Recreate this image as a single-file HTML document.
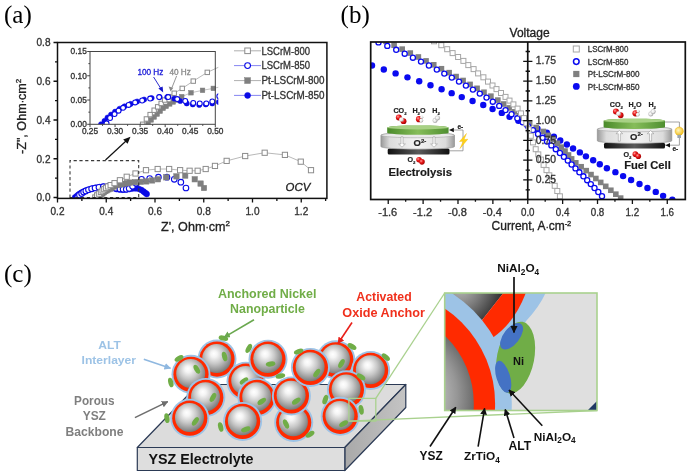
<!DOCTYPE html>
<html><head><meta charset="utf-8"><title>Figure</title>
<style>html,body{margin:0;padding:0;background:#fff;overflow:hidden}svg{display:block;will-change:transform}</style>
</head><body>
<svg width="688" height="473" viewBox="0 0 688 473">
<rect width="688" height="473" fill="#fff"/>
<text x="4" y="23.3" font-family='"Liberation Serif", "Times New Roman", serif' font-size="25">(a)</text>
<clipPath id="clipA"><rect x="57.5" y="42.5" width="269.4" height="155.9"/></clipPath>
<g clip-path="url(#clipA)">
<circle cx="75.05" cy="197.5" r="2.9" fill="#0a0ae6" stroke="#0a0ae6" stroke-width="0.5"/>
<circle cx="76.76" cy="196.14" r="2.9" fill="#0a0ae6" stroke="#0a0ae6" stroke-width="0.5"/>
<circle cx="78.22" cy="194.79" r="2.9" fill="#0a0ae6" stroke="#0a0ae6" stroke-width="0.5"/>
<circle cx="79.92" cy="193.62" r="2.9" fill="#0a0ae6" stroke="#0a0ae6" stroke-width="0.5"/>
<circle cx="81.88" cy="192.46" r="2.9" fill="#0a0ae6" stroke="#0a0ae6" stroke-width="0.5"/>
<circle cx="84.07" cy="191.3" r="2.9" fill="#0a0ae6" stroke="#0a0ae6" stroke-width="0.5"/>
<circle cx="86.51" cy="190.33" r="2.9" fill="#0a0ae6" stroke="#0a0ae6" stroke-width="0.5"/>
<circle cx="89.43" cy="189.36" r="2.9" fill="#0a0ae6" stroke="#0a0ae6" stroke-width="0.5"/>
<circle cx="92.6" cy="188.39" r="2.9" fill="#0a0ae6" stroke="#0a0ae6" stroke-width="0.5"/>
<circle cx="96.01" cy="187.62" r="2.9" fill="#0a0ae6" stroke="#0a0ae6" stroke-width="0.5"/>
<circle cx="99.67" cy="187.04" r="2.9" fill="#0a0ae6" stroke="#0a0ae6" stroke-width="0.5"/>
<circle cx="103.57" cy="186.65" r="2.9" fill="#0a0ae6" stroke="#0a0ae6" stroke-width="0.5"/>
<circle cx="107.22" cy="186.65" r="2.9" fill="#0a0ae6" stroke="#0a0ae6" stroke-width="0.5"/>
<circle cx="110.64" cy="187.23" r="2.9" fill="#0a0ae6" stroke="#0a0ae6" stroke-width="0.5"/>
<circle cx="113.56" cy="188.2" r="2.9" fill="#0a0ae6" stroke="#0a0ae6" stroke-width="0.5"/>
<circle cx="116.73" cy="189.17" r="2.9" fill="#0a0ae6" stroke="#0a0ae6" stroke-width="0.5"/>
<circle cx="119.66" cy="189.56" r="2.9" fill="#0a0ae6" stroke="#0a0ae6" stroke-width="0.5"/>
<circle cx="122.83" cy="189.75" r="2.9" fill="#0a0ae6" stroke="#0a0ae6" stroke-width="0.5"/>
<circle cx="125.99" cy="189.56" r="2.9" fill="#0a0ae6" stroke="#0a0ae6" stroke-width="0.5"/>
<circle cx="129.16" cy="189.17" r="2.9" fill="#0a0ae6" stroke="#0a0ae6" stroke-width="0.5"/>
<circle cx="132.33" cy="188.59" r="2.9" fill="#0a0ae6" stroke="#0a0ae6" stroke-width="0.5"/>
<circle cx="135.5" cy="188.39" r="2.9" fill="#0a0ae6" stroke="#0a0ae6" stroke-width="0.5"/>
<circle cx="138.67" cy="188.78" r="2.9" fill="#0a0ae6" stroke="#0a0ae6" stroke-width="0.5"/>
<circle cx="141.35" cy="189.94" r="2.9" fill="#0a0ae6" stroke="#0a0ae6" stroke-width="0.5"/>
<circle cx="143.54" cy="191.49" r="2.9" fill="#0a0ae6" stroke="#0a0ae6" stroke-width="0.5"/>
<circle cx="145.25" cy="192.85" r="2.9" fill="#0a0ae6" stroke="#0a0ae6" stroke-width="0.5"/>
<circle cx="146.71" cy="194.01" r="2.9" fill="#0a0ae6" stroke="#0a0ae6" stroke-width="0.5"/>
<circle cx="77.73" cy="197.11" r="2.8" fill="#fff" stroke="#0a0ae6" stroke-width="1.1"/>
<circle cx="79.44" cy="194.98" r="2.8" fill="#fff" stroke="#0a0ae6" stroke-width="1.1"/>
<circle cx="81.63" cy="193.43" r="2.8" fill="#fff" stroke="#0a0ae6" stroke-width="1.1"/>
<circle cx="83.58" cy="192.07" r="2.8" fill="#fff" stroke="#0a0ae6" stroke-width="1.1"/>
<circle cx="85.78" cy="190.91" r="2.8" fill="#fff" stroke="#0a0ae6" stroke-width="1.1"/>
<circle cx="88.46" cy="189.75" r="2.8" fill="#fff" stroke="#0a0ae6" stroke-width="1.1"/>
<circle cx="91.62" cy="188.78" r="2.8" fill="#fff" stroke="#0a0ae6" stroke-width="1.1"/>
<circle cx="95.04" cy="188.01" r="2.8" fill="#fff" stroke="#0a0ae6" stroke-width="1.1"/>
<circle cx="98.94" cy="187.23" r="2.8" fill="#fff" stroke="#0a0ae6" stroke-width="1.1"/>
<circle cx="103.33" cy="186.65" r="2.8" fill="#fff" stroke="#0a0ae6" stroke-width="1.1"/>
<circle cx="107.71" cy="186.65" r="2.8" fill="#fff" stroke="#0a0ae6" stroke-width="1.1"/>
<circle cx="112.1" cy="187.43" r="2.8" fill="#fff" stroke="#0a0ae6" stroke-width="1.1"/>
<circle cx="116" cy="188.2" r="2.8" fill="#fff" stroke="#0a0ae6" stroke-width="1.1"/>
<circle cx="119.9" cy="188.97" r="2.8" fill="#fff" stroke="#0a0ae6" stroke-width="1.1"/>
<circle cx="123.07" cy="189.17" r="2.8" fill="#fff" stroke="#0a0ae6" stroke-width="1.1"/>
<circle cx="126.24" cy="189.17" r="2.8" fill="#fff" stroke="#0a0ae6" stroke-width="1.1"/>
<circle cx="129.16" cy="188.39" r="2.8" fill="#fff" stroke="#0a0ae6" stroke-width="1.1"/>
<circle cx="132.57" cy="186.26" r="2.8" fill="#fff" stroke="#0a0ae6" stroke-width="1.1"/>
<circle cx="135.99" cy="183.16" r="2.8" fill="#fff" stroke="#0a0ae6" stroke-width="1.1"/>
<circle cx="141.59" cy="179.29" r="2.8" fill="#fff" stroke="#0a0ae6" stroke-width="1.1"/>
<circle cx="149.64" cy="178.51" r="2.8" fill="#fff" stroke="#0a0ae6" stroke-width="1.1"/>
<circle cx="158.41" cy="177.16" r="2.8" fill="#fff" stroke="#0a0ae6" stroke-width="1.1"/>
<circle cx="166.94" cy="177.16" r="2.8" fill="#fff" stroke="#0a0ae6" stroke-width="1.1"/>
<circle cx="174.26" cy="179.29" r="2.8" fill="#fff" stroke="#0a0ae6" stroke-width="1.1"/>
<circle cx="180.84" cy="182.19" r="2.8" fill="#fff" stroke="#0a0ae6" stroke-width="1.1"/>
<circle cx="185.96" cy="188.01" r="2.8" fill="#fff" stroke="#0a0ae6" stroke-width="1.1"/>
<rect x="95.26" y="194.41" width="5.4" height="5.4" fill="#7f7f7f" stroke="#7f7f7f" stroke-width="0.5"/>
<rect x="96.72" y="193.06" width="5.4" height="5.4" fill="#7f7f7f" stroke="#7f7f7f" stroke-width="0.5"/>
<rect x="98.19" y="191.89" width="5.4" height="5.4" fill="#7f7f7f" stroke="#7f7f7f" stroke-width="0.5"/>
<rect x="99.65" y="190.73" width="5.4" height="5.4" fill="#7f7f7f" stroke="#7f7f7f" stroke-width="0.5"/>
<rect x="101.11" y="189.57" width="5.4" height="5.4" fill="#7f7f7f" stroke="#7f7f7f" stroke-width="0.5"/>
<rect x="102.58" y="188.41" width="5.4" height="5.4" fill="#7f7f7f" stroke="#7f7f7f" stroke-width="0.5"/>
<rect x="104.04" y="187.63" width="5.4" height="5.4" fill="#7f7f7f" stroke="#7f7f7f" stroke-width="0.5"/>
<rect x="105.74" y="186.66" width="5.4" height="5.4" fill="#7f7f7f" stroke="#7f7f7f" stroke-width="0.5"/>
<rect x="107.45" y="185.89" width="5.4" height="5.4" fill="#7f7f7f" stroke="#7f7f7f" stroke-width="0.5"/>
<rect x="108.91" y="185.11" width="5.4" height="5.4" fill="#7f7f7f" stroke="#7f7f7f" stroke-width="0.5"/>
<rect x="111.59" y="183.76" width="5.4" height="5.4" fill="#7f7f7f" stroke="#7f7f7f" stroke-width="0.5"/>
<rect x="115.01" y="182.4" width="5.4" height="5.4" fill="#7f7f7f" stroke="#7f7f7f" stroke-width="0.5"/>
<rect x="118.42" y="181.62" width="5.4" height="5.4" fill="#7f7f7f" stroke="#7f7f7f" stroke-width="0.5"/>
<rect x="121.59" y="181.04" width="5.4" height="5.4" fill="#7f7f7f" stroke="#7f7f7f" stroke-width="0.5"/>
<rect x="124.51" y="180.46" width="5.4" height="5.4" fill="#7f7f7f" stroke="#7f7f7f" stroke-width="0.5"/>
<rect x="127.19" y="179.88" width="5.4" height="5.4" fill="#7f7f7f" stroke="#7f7f7f" stroke-width="0.5"/>
<rect x="132.31" y="179.49" width="5.4" height="5.4" fill="#7f7f7f" stroke="#7f7f7f" stroke-width="0.5"/>
<rect x="137.92" y="179.11" width="5.4" height="5.4" fill="#7f7f7f" stroke="#7f7f7f" stroke-width="0.5"/>
<rect x="143.52" y="178.72" width="5.4" height="5.4" fill="#7f7f7f" stroke="#7f7f7f" stroke-width="0.5"/>
<rect x="149.38" y="177.75" width="5.4" height="5.4" fill="#7f7f7f" stroke="#7f7f7f" stroke-width="0.5"/>
<rect x="155.23" y="176.59" width="5.4" height="5.4" fill="#7f7f7f" stroke="#7f7f7f" stroke-width="0.5"/>
<rect x="163.51" y="174.65" width="5.4" height="5.4" fill="#7f7f7f" stroke="#7f7f7f" stroke-width="0.5"/>
<rect x="173.75" y="173.68" width="5.4" height="5.4" fill="#7f7f7f" stroke="#7f7f7f" stroke-width="0.5"/>
<rect x="182.53" y="172.91" width="5.4" height="5.4" fill="#7f7f7f" stroke="#7f7f7f" stroke-width="0.5"/>
<rect x="192.03" y="176.59" width="5.4" height="5.4" fill="#7f7f7f" stroke="#7f7f7f" stroke-width="0.5"/>
<rect x="197.88" y="180.85" width="5.4" height="5.4" fill="#7f7f7f" stroke="#7f7f7f" stroke-width="0.5"/>
<rect x="201.29" y="185.31" width="5.4" height="5.4" fill="#7f7f7f" stroke="#7f7f7f" stroke-width="0.5"/>
<path d="M95.28,197.5 L97.11,195.37 L98.94,193.62 L100.89,191.88 L102.59,190.53 L104.3,189.17 L106.01,187.81 L107.96,186.46 L110.64,185.1 L114.54,183.16 L119.9,180.26 L126.72,176.77 L135.5,173.47 L145.98,170.18 L157.68,169.02 L169.14,169.02 L180.11,170.18 L189.61,170.76 L197.66,170.76 L205.7,169.02 L214.96,165.92 L226.66,160.88 L245.19,156.04 L264.69,152.74 L284.92,154.88 L300.76,161.66 L311,170.18" fill="none" stroke="#9a9a9a" stroke-width="0.7"/>
<rect x="92.68" y="194.9" width="5.2" height="5.2" fill="#fff" stroke="#8c8c8c" stroke-width="1"/>
<rect x="94.51" y="192.77" width="5.2" height="5.2" fill="#fff" stroke="#8c8c8c" stroke-width="1"/>
<rect x="96.34" y="191.03" width="5.2" height="5.2" fill="#fff" stroke="#8c8c8c" stroke-width="1"/>
<rect x="98.29" y="189.28" width="5.2" height="5.2" fill="#fff" stroke="#8c8c8c" stroke-width="1"/>
<rect x="99.99" y="187.93" width="5.2" height="5.2" fill="#fff" stroke="#8c8c8c" stroke-width="1"/>
<rect x="101.7" y="186.57" width="5.2" height="5.2" fill="#fff" stroke="#8c8c8c" stroke-width="1"/>
<rect x="103.41" y="185.21" width="5.2" height="5.2" fill="#fff" stroke="#8c8c8c" stroke-width="1"/>
<rect x="105.36" y="183.86" width="5.2" height="5.2" fill="#fff" stroke="#8c8c8c" stroke-width="1"/>
<rect x="108.04" y="182.5" width="5.2" height="5.2" fill="#fff" stroke="#8c8c8c" stroke-width="1"/>
<rect x="111.94" y="180.56" width="5.2" height="5.2" fill="#fff" stroke="#8c8c8c" stroke-width="1"/>
<rect x="117.3" y="177.66" width="5.2" height="5.2" fill="#fff" stroke="#8c8c8c" stroke-width="1"/>
<rect x="124.12" y="174.17" width="5.2" height="5.2" fill="#fff" stroke="#8c8c8c" stroke-width="1"/>
<rect x="132.9" y="170.88" width="5.2" height="5.2" fill="#fff" stroke="#8c8c8c" stroke-width="1"/>
<rect x="143.38" y="167.58" width="5.2" height="5.2" fill="#fff" stroke="#8c8c8c" stroke-width="1"/>
<rect x="155.08" y="166.42" width="5.2" height="5.2" fill="#fff" stroke="#8c8c8c" stroke-width="1"/>
<rect x="166.54" y="166.42" width="5.2" height="5.2" fill="#fff" stroke="#8c8c8c" stroke-width="1"/>
<rect x="177.51" y="167.58" width="5.2" height="5.2" fill="#fff" stroke="#8c8c8c" stroke-width="1"/>
<rect x="187.01" y="168.16" width="5.2" height="5.2" fill="#fff" stroke="#8c8c8c" stroke-width="1"/>
<rect x="195.06" y="168.16" width="5.2" height="5.2" fill="#fff" stroke="#8c8c8c" stroke-width="1"/>
<rect x="203.1" y="166.42" width="5.2" height="5.2" fill="#fff" stroke="#8c8c8c" stroke-width="1"/>
<rect x="212.36" y="163.32" width="5.2" height="5.2" fill="#fff" stroke="#8c8c8c" stroke-width="1"/>
<rect x="224.06" y="158.28" width="5.2" height="5.2" fill="#fff" stroke="#8c8c8c" stroke-width="1"/>
<rect x="242.59" y="153.44" width="5.2" height="5.2" fill="#fff" stroke="#8c8c8c" stroke-width="1"/>
<rect x="262.09" y="150.14" width="5.2" height="5.2" fill="#fff" stroke="#8c8c8c" stroke-width="1"/>
<rect x="282.32" y="152.28" width="5.2" height="5.2" fill="#fff" stroke="#8c8c8c" stroke-width="1"/>
<rect x="298.16" y="159.06" width="5.2" height="5.2" fill="#fff" stroke="#8c8c8c" stroke-width="1"/>
<rect x="308.4" y="167.58" width="5.2" height="5.2" fill="#fff" stroke="#8c8c8c" stroke-width="1"/>
</g>
<path d="M70,197.6 V160.6 H138.7 V197.6 Z" fill="none" stroke="#3a3a3a" stroke-width="1.1" stroke-dasharray="3.2,2.6"/>
<line x1="105.5" y1="160" x2="126" y2="141" stroke="#111" stroke-width="1.2"/>
<path d="M130.5,136.8 L123.2,139.6 L127.6,143.8 Z" fill="#111"/>
<rect x="57.5" y="42.5" width="269.4" height="155.9" fill="none" stroke="#111" stroke-width="1.5"/>
<path d="M53.5,197.5 H57.5 M55,178.12 H57.5 M53.5,158.75 H57.5 M55,139.38 H57.5 M53.5,120 H57.5 M55,100.62 H57.5 M53.5,81.25 H57.5 M55,61.88 H57.5 M53.5,42.5 H57.5 M57.5,198.4 V202.4 M81.88,198.4 V200.9 M106.25,198.4 V202.4 M130.62,198.4 V200.9 M155,198.4 V202.4 M179.38,198.4 V200.9 M203.75,198.4 V202.4 M228.13,198.4 V200.9 M252.5,198.4 V202.4 M276.88,198.4 V200.9 M301.25,198.4 V202.4 M325.62,198.4 V200.9" stroke="#111" stroke-width="1.3" fill="none"/>
<text x="50.5" y="201.3" font-family='"Liberation Sans", Arial, sans-serif' font-size="10.5" fill="#333" text-anchor="end" textLength="14" lengthAdjust="spacingAndGlyphs" stroke="#333" stroke-width="0.32">0.0</text>
<text x="50.5" y="162.55" font-family='"Liberation Sans", Arial, sans-serif' font-size="10.5" fill="#333" text-anchor="end" textLength="14" lengthAdjust="spacingAndGlyphs" stroke="#333" stroke-width="0.32">0.2</text>
<text x="50.5" y="123.8" font-family='"Liberation Sans", Arial, sans-serif' font-size="10.5" fill="#333" text-anchor="end" textLength="14" lengthAdjust="spacingAndGlyphs" stroke="#333" stroke-width="0.32">0.4</text>
<text x="50.5" y="85.05" font-family='"Liberation Sans", Arial, sans-serif' font-size="10.5" fill="#333" text-anchor="end" textLength="14" lengthAdjust="spacingAndGlyphs" stroke="#333" stroke-width="0.32">0.6</text>
<text x="50.5" y="46.3" font-family='"Liberation Sans", Arial, sans-serif' font-size="10.5" fill="#333" text-anchor="end" textLength="14" lengthAdjust="spacingAndGlyphs" stroke="#333" stroke-width="0.32">0.8</text>
<text x="57.5" y="215" font-family='"Liberation Sans", Arial, sans-serif' font-size="10.5" fill="#333" text-anchor="middle" textLength="14" lengthAdjust="spacingAndGlyphs" stroke="#333" stroke-width="0.32">0.2</text>
<text x="106.25" y="215" font-family='"Liberation Sans", Arial, sans-serif' font-size="10.5" fill="#333" text-anchor="middle" textLength="14" lengthAdjust="spacingAndGlyphs" stroke="#333" stroke-width="0.32">0.4</text>
<text x="155" y="215" font-family='"Liberation Sans", Arial, sans-serif' font-size="10.5" fill="#333" text-anchor="middle" textLength="14" lengthAdjust="spacingAndGlyphs" stroke="#333" stroke-width="0.32">0.6</text>
<text x="203.75" y="215" font-family='"Liberation Sans", Arial, sans-serif' font-size="10.5" fill="#333" text-anchor="middle" textLength="14" lengthAdjust="spacingAndGlyphs" stroke="#333" stroke-width="0.32">0.8</text>
<text x="252.5" y="215" font-family='"Liberation Sans", Arial, sans-serif' font-size="10.5" fill="#333" text-anchor="middle" textLength="14" lengthAdjust="spacingAndGlyphs" stroke="#333" stroke-width="0.32">1.0</text>
<text x="301.25" y="215" font-family='"Liberation Sans", Arial, sans-serif' font-size="10.5" fill="#333" text-anchor="middle" textLength="14" lengthAdjust="spacingAndGlyphs" stroke="#333" stroke-width="0.32">1.2</text>
<text x="161" y="231.2" font-family='"Liberation Sans", Arial, sans-serif' font-size="12.6" fill="#222" stroke="#222" stroke-width="0.32">Z', Ohm<tspan font-size="10">&#183;</tspan>cm<tspan font-size="8" dy="-5">2</tspan></text>
<text transform="translate(26,154) rotate(-90)" x="0" y="0" font-family='"Liberation Sans", Arial, sans-serif' font-size="12.6" fill="#222" stroke="#222" stroke-width="0.32">-Z", Ohm<tspan font-size="10">&#183;</tspan>cm<tspan font-size="8" dy="-5">2</tspan></text>
<text x="285.6" y="191.3" font-family='"Liberation Sans", Arial, sans-serif' font-size="11.4" font-style="italic" fill="#222" stroke="#222" stroke-width="0.32">OCV</text>
<rect x="90.0" y="51.5" width="125.30000000000001" height="72.8" fill="#fff"/>
<clipPath id="clipI"><rect x="90.0" y="48.5" width="128.3" height="75.8"/></clipPath>
<g clip-path="url(#clipI)">
<path d="M148.14,123.33 L151.15,119.93 L154.15,117.02 L157.16,114.11 L160.17,111.2 L163.18,108.29 L166.18,106.34 L169.69,103.92 L173.2,101.98 L176.21,100.03 L181.72,96.64 L190.99,92.76 L202.52,90.33 L213.3,88.39 L224.32,85.96" fill="none" stroke="#aaaaaa" stroke-width="0.7"/>
<rect x="145.84" y="121.03" width="4.6" height="4.6" fill="#7f7f7f" stroke="#7f7f7f" stroke-width="0.5"/>
<rect x="148.85" y="117.63" width="4.6" height="4.6" fill="#7f7f7f" stroke="#7f7f7f" stroke-width="0.5"/>
<rect x="151.85" y="114.72" width="4.6" height="4.6" fill="#7f7f7f" stroke="#7f7f7f" stroke-width="0.5"/>
<rect x="154.86" y="111.81" width="4.6" height="4.6" fill="#7f7f7f" stroke="#7f7f7f" stroke-width="0.5"/>
<rect x="157.87" y="108.9" width="4.6" height="4.6" fill="#7f7f7f" stroke="#7f7f7f" stroke-width="0.5"/>
<rect x="160.88" y="105.99" width="4.6" height="4.6" fill="#7f7f7f" stroke="#7f7f7f" stroke-width="0.5"/>
<rect x="163.88" y="104.04" width="4.6" height="4.6" fill="#7f7f7f" stroke="#7f7f7f" stroke-width="0.5"/>
<rect x="167.39" y="101.62" width="4.6" height="4.6" fill="#7f7f7f" stroke="#7f7f7f" stroke-width="0.5"/>
<rect x="170.9" y="99.68" width="4.6" height="4.6" fill="#7f7f7f" stroke="#7f7f7f" stroke-width="0.5"/>
<rect x="173.91" y="97.73" width="4.6" height="4.6" fill="#7f7f7f" stroke="#7f7f7f" stroke-width="0.5"/>
<rect x="179.42" y="94.34" width="4.6" height="4.6" fill="#7f7f7f" stroke="#7f7f7f" stroke-width="0.5"/>
<rect x="188.69" y="90.46" width="4.6" height="4.6" fill="#7f7f7f" stroke="#7f7f7f" stroke-width="0.5"/>
<rect x="200.22" y="88.03" width="4.6" height="4.6" fill="#7f7f7f" stroke="#7f7f7f" stroke-width="0.5"/>
<rect x="211" y="86.09" width="4.6" height="4.6" fill="#7f7f7f" stroke="#7f7f7f" stroke-width="0.5"/>
<rect x="222.02" y="83.66" width="4.6" height="4.6" fill="#7f7f7f" stroke="#7f7f7f" stroke-width="0.5"/>
<path d="M142.63,124.3 L146.38,118.96 L150.14,114.59 L154.15,110.23 L157.66,106.83 L161.17,103.43 L164.68,100.03 L168.69,96.64 L174.2,93.24 L182.22,88.39 L193.25,81.11 L207.28,72.37 L225.32,64.12" fill="none" stroke="#9a9a9a" stroke-width="0.7"/>
<rect x="140.43" y="122.1" width="4.4" height="4.4" fill="#fff" stroke="#8c8c8c" stroke-width="1"/>
<rect x="144.19" y="116.76" width="4.4" height="4.4" fill="#fff" stroke="#8c8c8c" stroke-width="1"/>
<rect x="147.94" y="112.39" width="4.4" height="4.4" fill="#fff" stroke="#8c8c8c" stroke-width="1"/>
<rect x="151.95" y="108.03" width="4.4" height="4.4" fill="#fff" stroke="#8c8c8c" stroke-width="1"/>
<rect x="155.46" y="104.63" width="4.4" height="4.4" fill="#fff" stroke="#8c8c8c" stroke-width="1"/>
<rect x="158.97" y="101.23" width="4.4" height="4.4" fill="#fff" stroke="#8c8c8c" stroke-width="1"/>
<rect x="162.48" y="97.83" width="4.4" height="4.4" fill="#fff" stroke="#8c8c8c" stroke-width="1"/>
<rect x="166.49" y="94.44" width="4.4" height="4.4" fill="#fff" stroke="#8c8c8c" stroke-width="1"/>
<rect x="172" y="91.04" width="4.4" height="4.4" fill="#fff" stroke="#8c8c8c" stroke-width="1"/>
<rect x="180.02" y="86.19" width="4.4" height="4.4" fill="#fff" stroke="#8c8c8c" stroke-width="1"/>
<rect x="191.05" y="78.91" width="4.4" height="4.4" fill="#fff" stroke="#8c8c8c" stroke-width="1"/>
<rect x="205.08" y="70.17" width="4.4" height="4.4" fill="#fff" stroke="#8c8c8c" stroke-width="1"/>
<rect x="223.12" y="61.92" width="4.4" height="4.4" fill="#fff" stroke="#8c8c8c" stroke-width="1"/>
<circle cx="101.03" cy="124.3" r="2.6" fill="#0a0ae6" stroke="#0a0ae6" stroke-width="0.5"/>
<circle cx="104.53" cy="120.9" r="2.6" fill="#0a0ae6" stroke="#0a0ae6" stroke-width="0.5"/>
<circle cx="107.54" cy="117.51" r="2.6" fill="#0a0ae6" stroke="#0a0ae6" stroke-width="0.5"/>
<circle cx="111.05" cy="114.59" r="2.6" fill="#0a0ae6" stroke="#0a0ae6" stroke-width="0.5"/>
<circle cx="115.06" cy="111.68" r="2.6" fill="#0a0ae6" stroke="#0a0ae6" stroke-width="0.5"/>
<circle cx="119.57" cy="108.77" r="2.6" fill="#0a0ae6" stroke="#0a0ae6" stroke-width="0.5"/>
<circle cx="124.58" cy="106.34" r="2.6" fill="#0a0ae6" stroke="#0a0ae6" stroke-width="0.5"/>
<circle cx="130.6" cy="103.92" r="2.6" fill="#0a0ae6" stroke="#0a0ae6" stroke-width="0.5"/>
<circle cx="137.11" cy="101.49" r="2.6" fill="#0a0ae6" stroke="#0a0ae6" stroke-width="0.5"/>
<circle cx="144.13" cy="99.55" r="2.6" fill="#0a0ae6" stroke="#0a0ae6" stroke-width="0.5"/>
<circle cx="151.65" cy="98.09" r="2.6" fill="#0a0ae6" stroke="#0a0ae6" stroke-width="0.5"/>
<circle cx="159.67" cy="97.12" r="2.6" fill="#0a0ae6" stroke="#0a0ae6" stroke-width="0.5"/>
<circle cx="167.18" cy="97.12" r="2.6" fill="#0a0ae6" stroke="#0a0ae6" stroke-width="0.5"/>
<circle cx="174.2" cy="98.58" r="2.6" fill="#0a0ae6" stroke="#0a0ae6" stroke-width="0.5"/>
<circle cx="180.22" cy="101.01" r="2.6" fill="#0a0ae6" stroke="#0a0ae6" stroke-width="0.5"/>
<circle cx="186.73" cy="103.43" r="2.6" fill="#0a0ae6" stroke="#0a0ae6" stroke-width="0.5"/>
<circle cx="192.75" cy="104.4" r="2.6" fill="#0a0ae6" stroke="#0a0ae6" stroke-width="0.5"/>
<circle cx="199.26" cy="104.89" r="2.6" fill="#0a0ae6" stroke="#0a0ae6" stroke-width="0.5"/>
<circle cx="205.78" cy="104.4" r="2.6" fill="#0a0ae6" stroke="#0a0ae6" stroke-width="0.5"/>
<circle cx="212.29" cy="103.43" r="2.6" fill="#0a0ae6" stroke="#0a0ae6" stroke-width="0.5"/>
<circle cx="218.81" cy="101.98" r="2.6" fill="#0a0ae6" stroke="#0a0ae6" stroke-width="0.5"/>
<circle cx="106.54" cy="123.33" r="2.45" fill="#fff" stroke="#0a0ae6" stroke-width="1.1"/>
<circle cx="110.05" cy="117.99" r="2.45" fill="#fff" stroke="#0a0ae6" stroke-width="1.1"/>
<circle cx="114.56" cy="114.11" r="2.45" fill="#fff" stroke="#0a0ae6" stroke-width="1.1"/>
<circle cx="118.57" cy="110.71" r="2.45" fill="#fff" stroke="#0a0ae6" stroke-width="1.1"/>
<circle cx="123.08" cy="107.8" r="2.45" fill="#fff" stroke="#0a0ae6" stroke-width="1.1"/>
<circle cx="128.59" cy="104.89" r="2.45" fill="#fff" stroke="#0a0ae6" stroke-width="1.1"/>
<circle cx="135.11" cy="102.46" r="2.45" fill="#fff" stroke="#0a0ae6" stroke-width="1.1"/>
<circle cx="142.12" cy="100.52" r="2.45" fill="#fff" stroke="#0a0ae6" stroke-width="1.1"/>
<circle cx="150.14" cy="98.58" r="2.45" fill="#fff" stroke="#0a0ae6" stroke-width="1.1"/>
<circle cx="159.17" cy="97.12" r="2.45" fill="#fff" stroke="#0a0ae6" stroke-width="1.1"/>
<circle cx="168.19" cy="97.12" r="2.45" fill="#fff" stroke="#0a0ae6" stroke-width="1.1"/>
<circle cx="177.21" cy="99.06" r="2.45" fill="#fff" stroke="#0a0ae6" stroke-width="1.1"/>
<circle cx="185.23" cy="101.01" r="2.45" fill="#fff" stroke="#0a0ae6" stroke-width="1.1"/>
<circle cx="193.25" cy="102.95" r="2.45" fill="#fff" stroke="#0a0ae6" stroke-width="1.1"/>
<circle cx="199.76" cy="103.43" r="2.45" fill="#fff" stroke="#0a0ae6" stroke-width="1.1"/>
<circle cx="206.28" cy="103.43" r="2.45" fill="#fff" stroke="#0a0ae6" stroke-width="1.1"/>
<circle cx="212.29" cy="101.49" r="2.45" fill="#fff" stroke="#0a0ae6" stroke-width="1.1"/>
<circle cx="219.31" cy="96.15" r="2.45" fill="#fff" stroke="#0a0ae6" stroke-width="1.1"/>
</g>
<rect x="90.0" y="51.5" width="125.30000000000001" height="72.8" fill="none" stroke="#444" stroke-width="1"/>
<path d="M87.2,124.3 H90 M88.4,112.17 H90 M87.2,100.03 H90 M88.4,87.9 H90 M87.2,75.77 H90 M88.4,63.64 H90 M87.2,51.5 H90 M90,124.3 V127.1 M102.53,124.3 V125.9 M115.06,124.3 V127.1 M127.59,124.3 V125.9 M140.12,124.3 V127.1 M152.65,124.3 V125.9 M165.18,124.3 V127.1 M177.71,124.3 V125.9 M190.24,124.3 V127.1 M202.77,124.3 V125.9 M215.3,124.3 V127.1" stroke="#444" stroke-width="1" fill="none"/>
<text x="86.8" y="127.2" font-family='"Liberation Sans", Arial, sans-serif' font-size="8.3" fill="#333" text-anchor="end" textLength="16.2" lengthAdjust="spacingAndGlyphs" stroke="#333" stroke-width="0.32">0.00</text>
<text x="86.8" y="102.94" font-family='"Liberation Sans", Arial, sans-serif' font-size="8.3" fill="#333" text-anchor="end" textLength="16.2" lengthAdjust="spacingAndGlyphs" stroke="#333" stroke-width="0.32">0.05</text>
<text x="86.8" y="78.67" font-family='"Liberation Sans", Arial, sans-serif' font-size="8.3" fill="#333" text-anchor="end" textLength="16.2" lengthAdjust="spacingAndGlyphs" stroke="#333" stroke-width="0.32">0.10</text>
<text x="86.8" y="54.4" font-family='"Liberation Sans", Arial, sans-serif' font-size="8.3" fill="#333" text-anchor="end" textLength="16.2" lengthAdjust="spacingAndGlyphs" stroke="#333" stroke-width="0.32">0.15</text>
<text x="90" y="133.9" font-family='"Liberation Sans", Arial, sans-serif' font-size="8.3" fill="#333" text-anchor="middle" textLength="16.2" lengthAdjust="spacingAndGlyphs" stroke="#333" stroke-width="0.32">0.25</text>
<text x="115.06" y="133.9" font-family='"Liberation Sans", Arial, sans-serif' font-size="8.3" fill="#333" text-anchor="middle" textLength="16.2" lengthAdjust="spacingAndGlyphs" stroke="#333" stroke-width="0.32">0.30</text>
<text x="140.12" y="133.9" font-family='"Liberation Sans", Arial, sans-serif' font-size="8.3" fill="#333" text-anchor="middle" textLength="16.2" lengthAdjust="spacingAndGlyphs" stroke="#333" stroke-width="0.32">0.35</text>
<text x="165.18" y="133.9" font-family='"Liberation Sans", Arial, sans-serif' font-size="8.3" fill="#333" text-anchor="middle" textLength="16.2" lengthAdjust="spacingAndGlyphs" stroke="#333" stroke-width="0.32">0.40</text>
<text x="190.24" y="133.9" font-family='"Liberation Sans", Arial, sans-serif' font-size="8.3" fill="#333" text-anchor="middle" textLength="16.2" lengthAdjust="spacingAndGlyphs" stroke="#333" stroke-width="0.32">0.45</text>
<text x="215.3" y="133.9" font-family='"Liberation Sans", Arial, sans-serif' font-size="8.3" fill="#333" text-anchor="middle" textLength="16.2" lengthAdjust="spacingAndGlyphs" stroke="#333" stroke-width="0.32">0.50</text>
<text x="137.4" y="74.8" font-family='"Liberation Sans", Arial, sans-serif' font-size="8.8" fill="#1a1ad8" textLength="26" lengthAdjust="spacingAndGlyphs" stroke="#1a1ad8" stroke-width="0.32">100 Hz</text>
<text x="169.4" y="74.8" font-family='"Liberation Sans", Arial, sans-serif' font-size="8.8" fill="#8a8a8a" textLength="21.4" lengthAdjust="spacingAndGlyphs" stroke="#8a8a8a" stroke-width="0.32">40 Hz</text>
<line x1="153.6" y1="77" x2="160.5" y2="88" stroke="#1414c8" stroke-width="0.9"/>
<path d="M163.2,92.6 L158.4,88.6 L162.6,86.4 Z" fill="#1414c8"/>
<line x1="176.6" y1="76" x2="172" y2="87.5" stroke="#8a8a8a" stroke-width="0.9"/>
<path d="M170.6,91.6 L168.6,86.6 L173.4,87.8 Z" fill="#8a8a8a"/>
<line x1="234" y1="50.8" x2="261" y2="50.8" stroke="#9a9a9a" stroke-width="0.8"/>
<rect x="244.8" y="48" width="5.6" height="5.6" fill="#fff" stroke="#8c8c8c" stroke-width="1"/>
<text x="261.5" y="54.5" font-family='"Liberation Sans", Arial, sans-serif' font-size="10.4" fill="#333" textLength="48.5" lengthAdjust="spacingAndGlyphs" stroke="#333" stroke-width="0.32">LSCrM-800</text>
<line x1="234" y1="65.6" x2="261" y2="65.6" stroke="#6666ee" stroke-width="0.8"/>
<circle cx="247.6" cy="65.6" r="2.9" fill="#fff" stroke="#0a0ae6" stroke-width="1.1"/>
<text x="261.5" y="69.3" font-family='"Liberation Sans", Arial, sans-serif' font-size="10.4" fill="#333" textLength="48.5" lengthAdjust="spacingAndGlyphs" stroke="#333" stroke-width="0.32">LSCrM-850</text>
<line x1="234" y1="80.6" x2="261" y2="80.6" stroke="#9a9a9a" stroke-width="0.8"/>
<rect x="244.7" y="77.7" width="5.8" height="5.8" fill="#7f7f7f" stroke="#7f7f7f" stroke-width="0.5"/>
<text x="261.5" y="84.3" font-family='"Liberation Sans", Arial, sans-serif' font-size="10.4" fill="#333" textLength="63" lengthAdjust="spacingAndGlyphs" stroke="#333" stroke-width="0.32">Pt-LSCrM-800</text>
<line x1="234" y1="95.4" x2="261" y2="95.4" stroke="#6666ee" stroke-width="0.8"/>
<circle cx="247.6" cy="95.4" r="3" fill="#0a0ae6" stroke="#0a0ae6" stroke-width="0.5"/>
<text x="261.5" y="99.1" font-family='"Liberation Sans", Arial, sans-serif' font-size="10.4" fill="#333" textLength="63" lengthAdjust="spacingAndGlyphs" stroke="#333" stroke-width="0.32">Pt-LSCrM-850</text>
<defs>
<radialGradient id="mRed" cx="0.35" cy="0.35" r="0.7"><stop offset="0" stop-color="#ff9a9a"/><stop offset="0.45" stop-color="#e81818"/><stop offset="1" stop-color="#a00000"/></radialGradient>
<radialGradient id="mWht" cx="0.35" cy="0.35" r="0.7"><stop offset="0" stop-color="#ffffff"/><stop offset="0.6" stop-color="#e6e6e6"/><stop offset="1" stop-color="#9a9a9a"/></radialGradient>
<linearGradient id="gGreen" x1="0" y1="0" x2="1" y2="0"><stop offset="0" stop-color="#4a8a2a"/><stop offset="0.5" stop-color="#86bd5a"/><stop offset="1" stop-color="#4f8f30"/></linearGradient>
<linearGradient id="gGray" x1="0" y1="0" x2="1" y2="0"><stop offset="0" stop-color="#9a9a9a"/><stop offset="0.12" stop-color="#dcdcdc"/><stop offset="0.5" stop-color="#f4f4f4"/><stop offset="0.88" stop-color="#dcdcdc"/><stop offset="1" stop-color="#9a9a9a"/></linearGradient>
<linearGradient id="gDark" x1="0" y1="0" x2="1" y2="0"><stop offset="0" stop-color="#111"/><stop offset="0.5" stop-color="#5a5a5a"/><stop offset="1" stop-color="#111"/></linearGradient>
<radialGradient id="gBulb" cx="0.4" cy="0.4" r="0.6"><stop offset="0" stop-color="#fff6c0"/><stop offset="1" stop-color="#f3c020"/></radialGradient>
</defs>
<text x="340.6" y="23.3" font-family='"Liberation Serif", "Times New Roman", serif' font-size="25">(b)</text>
<clipPath id="clipB"><rect x="370.7" y="42.0" width="314.59999999999997" height="157.5"/></clipPath>
<g clip-path="url(#clipB)">
<circle cx="372" cy="65.5" r="3.2" fill="#0a0af0"/>
<circle cx="383.8" cy="69.45" r="3.2" fill="#0a0af0"/>
<circle cx="395.6" cy="73.4" r="3.2" fill="#0a0af0"/>
<circle cx="407.45" cy="77.35" r="3.2" fill="#0a0af0"/>
<circle cx="419.2" cy="81.3" r="3.2" fill="#0a0af0"/>
<circle cx="430.5" cy="85.25" r="3.2" fill="#0a0af0"/>
<circle cx="441.59" cy="89.2" r="3.2" fill="#0a0af0"/>
<circle cx="451.67" cy="93.15" r="3.2" fill="#0a0af0"/>
<circle cx="461.77" cy="97.1" r="3.2" fill="#0a0af0"/>
<circle cx="472.58" cy="101.05" r="3.2" fill="#0a0af0"/>
<circle cx="483.24" cy="105" r="3.2" fill="#0a0af0"/>
<circle cx="492.56" cy="108.95" r="3.2" fill="#0a0af0"/>
<circle cx="501.79" cy="112.9" r="3.2" fill="#0a0af0"/>
<circle cx="509.53" cy="116.85" r="3.2" fill="#0a0af0"/>
<circle cx="518.39" cy="120.8" r="3.2" fill="#0a0af0"/>
<circle cx="526.91" cy="124.75" r="3.2" fill="#0a0af0"/>
<circle cx="537.5" cy="128.7" r="3.2" fill="#0a0af0"/>
<circle cx="546.87" cy="132.65" r="3.2" fill="#0a0af0"/>
<circle cx="553.87" cy="136.6" r="3.2" fill="#0a0af0"/>
<circle cx="560.26" cy="140.55" r="3.2" fill="#0a0af0"/>
<circle cx="566.88" cy="144.5" r="3.2" fill="#0a0af0"/>
<circle cx="573.07" cy="148.45" r="3.2" fill="#0a0af0"/>
<circle cx="579.87" cy="152.4" r="3.2" fill="#0a0af0"/>
<circle cx="585.92" cy="156.35" r="3.2" fill="#0a0af0"/>
<circle cx="593.17" cy="160.3" r="3.2" fill="#0a0af0"/>
<circle cx="599.78" cy="164.25" r="3.2" fill="#0a0af0"/>
<circle cx="606.88" cy="168.2" r="3.2" fill="#0a0af0"/>
<circle cx="615.4" cy="172.15" r="3.2" fill="#0a0af0"/>
<circle cx="623.1" cy="176.1" r="3.2" fill="#0a0af0"/>
<circle cx="631.11" cy="180.05" r="3.2" fill="#0a0af0"/>
<circle cx="639.5" cy="184" r="3.2" fill="#0a0af0"/>
<circle cx="647.44" cy="187.95" r="3.2" fill="#0a0af0"/>
<circle cx="655.75" cy="191.9" r="3.2" fill="#0a0af0"/>
<circle cx="663.11" cy="195.85" r="3.2" fill="#0a0af0"/>
<circle cx="672.33" cy="199.8" r="3.2" fill="#0a0af0"/>
<rect x="383.2" y="38.5" width="5.6" height="5.6" fill="#808080"/>
<rect x="391.29" y="42.42" width="5.6" height="5.6" fill="#808080"/>
<rect x="399.38" y="46.34" width="5.6" height="5.6" fill="#808080"/>
<rect x="407.47" y="50.26" width="5.6" height="5.6" fill="#808080"/>
<rect x="415.56" y="54.18" width="5.6" height="5.6" fill="#808080"/>
<rect x="423.25" y="58.1" width="5.6" height="5.6" fill="#808080"/>
<rect x="430.94" y="62.02" width="5.6" height="5.6" fill="#808080"/>
<rect x="438.63" y="65.94" width="5.6" height="5.6" fill="#808080"/>
<rect x="446.32" y="69.86" width="5.6" height="5.6" fill="#808080"/>
<rect x="453.31" y="73.78" width="5.6" height="5.6" fill="#808080"/>
<rect x="460.29" y="77.7" width="5.6" height="5.6" fill="#808080"/>
<rect x="467.28" y="81.62" width="5.6" height="5.6" fill="#808080"/>
<rect x="474.26" y="85.54" width="5.6" height="5.6" fill="#808080"/>
<rect x="481.19" y="89.46" width="5.6" height="5.6" fill="#808080"/>
<rect x="488.11" y="93.38" width="5.6" height="5.6" fill="#808080"/>
<rect x="495.03" y="97.3" width="5.6" height="5.6" fill="#808080"/>
<rect x="500.85" y="101.22" width="5.6" height="5.6" fill="#808080"/>
<rect x="506.3" y="105.14" width="5.6" height="5.6" fill="#808080"/>
<rect x="511.63" y="109.06" width="5.6" height="5.6" fill="#808080"/>
<rect x="516.89" y="112.98" width="5.6" height="5.6" fill="#808080"/>
<rect x="521.95" y="116.9" width="5.6" height="5.6" fill="#808080"/>
<rect x="526.85" y="120.82" width="5.6" height="5.6" fill="#808080"/>
<rect x="533.37" y="124.74" width="5.6" height="5.6" fill="#808080"/>
<rect x="540.5" y="128.66" width="5.6" height="5.6" fill="#808080"/>
<rect x="545.52" y="132.58" width="5.6" height="5.6" fill="#808080"/>
<rect x="550.27" y="136.5" width="5.6" height="5.6" fill="#808080"/>
<rect x="554.57" y="140.42" width="5.6" height="5.6" fill="#808080"/>
<rect x="558.39" y="144.34" width="5.6" height="5.6" fill="#808080"/>
<rect x="562.21" y="148.26" width="5.6" height="5.6" fill="#808080"/>
<rect x="565.7" y="152.18" width="5.6" height="5.6" fill="#808080"/>
<rect x="568.83" y="156.1" width="5.6" height="5.6" fill="#808080"/>
<rect x="572.99" y="160.02" width="5.6" height="5.6" fill="#808080"/>
<rect x="578.35" y="163.94" width="5.6" height="5.6" fill="#808080"/>
<rect x="583.42" y="167.86" width="5.6" height="5.6" fill="#808080"/>
<rect x="588.22" y="171.78" width="5.6" height="5.6" fill="#808080"/>
<rect x="593.05" y="175.7" width="5.6" height="5.6" fill="#808080"/>
<rect x="597.91" y="179.62" width="5.6" height="5.6" fill="#808080"/>
<rect x="602.94" y="183.54" width="5.6" height="5.6" fill="#808080"/>
<rect x="608.05" y="187.46" width="5.6" height="5.6" fill="#808080"/>
<rect x="613.02" y="191.38" width="5.6" height="5.6" fill="#808080"/>
<rect x="617.85" y="195.3" width="5.6" height="5.6" fill="#808080"/>
<circle cx="370" cy="38.5" r="2.55" fill="#fff" stroke="#0a0af0" stroke-width="1.3"/>
<circle cx="378.5" cy="42.4" r="2.55" fill="#fff" stroke="#0a0af0" stroke-width="1.3"/>
<circle cx="387.3" cy="45.9" r="2.55" fill="#fff" stroke="#0a0af0" stroke-width="1.3"/>
<circle cx="396.2" cy="49.8" r="2.55" fill="#fff" stroke="#0a0af0" stroke-width="1.3"/>
<circle cx="404.7" cy="53.7" r="2.55" fill="#fff" stroke="#0a0af0" stroke-width="1.3"/>
<circle cx="412.9" cy="57.7" r="2.55" fill="#fff" stroke="#0a0af0" stroke-width="1.3"/>
<circle cx="421" cy="61.6" r="2.55" fill="#fff" stroke="#0a0af0" stroke-width="1.3"/>
<circle cx="428.9" cy="65.5" r="2.55" fill="#fff" stroke="#0a0af0" stroke-width="1.3"/>
<circle cx="436.8" cy="69.6" r="2.55" fill="#fff" stroke="#0a0af0" stroke-width="1.3"/>
<circle cx="444.3" cy="73.6" r="2.55" fill="#fff" stroke="#0a0af0" stroke-width="1.3"/>
<circle cx="451.8" cy="77.6" r="2.55" fill="#fff" stroke="#0a0af0" stroke-width="1.3"/>
<circle cx="459" cy="81.6" r="2.55" fill="#fff" stroke="#0a0af0" stroke-width="1.3"/>
<circle cx="465.9" cy="85.6" r="2.55" fill="#fff" stroke="#0a0af0" stroke-width="1.3"/>
<circle cx="472.9" cy="89.6" r="2.55" fill="#fff" stroke="#0a0af0" stroke-width="1.3"/>
<circle cx="479.8" cy="93.6" r="2.55" fill="#fff" stroke="#0a0af0" stroke-width="1.3"/>
<circle cx="486.5" cy="97.6" r="2.55" fill="#fff" stroke="#0a0af0" stroke-width="1.3"/>
<circle cx="492.8" cy="101.7" r="2.55" fill="#fff" stroke="#0a0af0" stroke-width="1.3"/>
<circle cx="499.2" cy="105.9" r="2.55" fill="#fff" stroke="#0a0af0" stroke-width="1.3"/>
<circle cx="505.5" cy="110.1" r="2.55" fill="#fff" stroke="#0a0af0" stroke-width="1.3"/>
<circle cx="511.5" cy="114.2" r="2.55" fill="#fff" stroke="#0a0af0" stroke-width="1.3"/>
<circle cx="517.3" cy="118.3" r="2.55" fill="#fff" stroke="#0a0af0" stroke-width="1.3"/>
<circle cx="522.7" cy="122.3" r="2.55" fill="#fff" stroke="#0a0af0" stroke-width="1.3"/>
<circle cx="528" cy="126.2" r="2.55" fill="#fff" stroke="#0a0af0" stroke-width="1.3"/>
<circle cx="533" cy="130.1" r="2.55" fill="#fff" stroke="#0a0af0" stroke-width="1.3"/>
<circle cx="538" cy="134" r="2.55" fill="#fff" stroke="#0a0af0" stroke-width="1.3"/>
<circle cx="542.6" cy="137.8" r="2.55" fill="#fff" stroke="#0a0af0" stroke-width="1.3"/>
<circle cx="547" cy="141.6" r="2.55" fill="#fff" stroke="#0a0af0" stroke-width="1.3"/>
<circle cx="551.4" cy="145.4" r="2.55" fill="#fff" stroke="#0a0af0" stroke-width="1.3"/>
<circle cx="555.8" cy="149.2" r="2.55" fill="#fff" stroke="#0a0af0" stroke-width="1.3"/>
<circle cx="559.9" cy="153" r="2.55" fill="#fff" stroke="#0a0af0" stroke-width="1.3"/>
<circle cx="563.9" cy="156.8" r="2.55" fill="#fff" stroke="#0a0af0" stroke-width="1.3"/>
<circle cx="567.8" cy="160.6" r="2.55" fill="#fff" stroke="#0a0af0" stroke-width="1.3"/>
<circle cx="571.6" cy="164.5" r="2.55" fill="#fff" stroke="#0a0af0" stroke-width="1.3"/>
<circle cx="575.5" cy="168.4" r="2.55" fill="#fff" stroke="#0a0af0" stroke-width="1.3"/>
<circle cx="579.4" cy="172.3" r="2.55" fill="#fff" stroke="#0a0af0" stroke-width="1.3"/>
<circle cx="583.4" cy="176.3" r="2.55" fill="#fff" stroke="#0a0af0" stroke-width="1.3"/>
<circle cx="587.2" cy="180.2" r="2.55" fill="#fff" stroke="#0a0af0" stroke-width="1.3"/>
<circle cx="590.8" cy="184.1" r="2.55" fill="#fff" stroke="#0a0af0" stroke-width="1.3"/>
<circle cx="594.5" cy="188" r="2.55" fill="#fff" stroke="#0a0af0" stroke-width="1.3"/>
<circle cx="598.3" cy="192" r="2.55" fill="#fff" stroke="#0a0af0" stroke-width="1.3"/>
<circle cx="602" cy="196.2" r="2.55" fill="#fff" stroke="#0a0af0" stroke-width="1.3"/>
<rect x="426.5" y="35" width="5" height="5" fill="#fff" stroke="#a6a6a6" stroke-width="1"/>
<rect x="431.5" y="38.8" width="5" height="5" fill="#fff" stroke="#a6a6a6" stroke-width="1"/>
<rect x="438.8" y="42.7" width="5" height="5" fill="#fff" stroke="#a6a6a6" stroke-width="1"/>
<rect x="444.7" y="46.7" width="5" height="5" fill="#fff" stroke="#a6a6a6" stroke-width="1"/>
<rect x="450.1" y="50.6" width="5" height="5" fill="#fff" stroke="#a6a6a6" stroke-width="1"/>
<rect x="455.6" y="54.5" width="5" height="5" fill="#fff" stroke="#a6a6a6" stroke-width="1"/>
<rect x="460.9" y="58.4" width="5" height="5" fill="#fff" stroke="#a6a6a6" stroke-width="1"/>
<rect x="465.8" y="62.6" width="5" height="5" fill="#fff" stroke="#a6a6a6" stroke-width="1"/>
<rect x="471.1" y="66.6" width="5" height="5" fill="#fff" stroke="#a6a6a6" stroke-width="1"/>
<rect x="475.6" y="70.9" width="5" height="5" fill="#fff" stroke="#a6a6a6" stroke-width="1"/>
<rect x="480.9" y="74.8" width="5" height="5" fill="#fff" stroke="#a6a6a6" stroke-width="1"/>
<rect x="485.5" y="79.1" width="5" height="5" fill="#fff" stroke="#a6a6a6" stroke-width="1"/>
<rect x="490" y="83" width="5" height="5" fill="#fff" stroke="#a6a6a6" stroke-width="1"/>
<rect x="494" y="86.6" width="5" height="5" fill="#fff" stroke="#a6a6a6" stroke-width="1"/>
<rect x="498.5" y="90.5" width="5" height="5" fill="#fff" stroke="#a6a6a6" stroke-width="1"/>
<rect x="503" y="94.4" width="5" height="5" fill="#fff" stroke="#a6a6a6" stroke-width="1"/>
<rect x="507" y="98.1" width="5" height="5" fill="#fff" stroke="#a6a6a6" stroke-width="1"/>
<rect x="510.9" y="101.9" width="5" height="5" fill="#fff" stroke="#a6a6a6" stroke-width="1"/>
<rect x="515.1" y="106.1" width="5" height="5" fill="#fff" stroke="#a6a6a6" stroke-width="1"/>
<rect x="518.5" y="110.9" width="5" height="5" fill="#fff" stroke="#a6a6a6" stroke-width="1"/>
<rect x="521.5" y="115.6" width="5" height="5" fill="#fff" stroke="#a6a6a6" stroke-width="1"/>
<rect x="523.8" y="120.9" width="5" height="5" fill="#fff" stroke="#a6a6a6" stroke-width="1"/>
<rect x="526.2" y="126.8" width="5" height="5" fill="#fff" stroke="#a6a6a6" stroke-width="1"/>
<rect x="528.3" y="133.3" width="5" height="5" fill="#fff" stroke="#a6a6a6" stroke-width="1"/>
<rect x="530.5" y="139.9" width="5" height="5" fill="#fff" stroke="#a6a6a6" stroke-width="1"/>
<rect x="533.2" y="146.7" width="5" height="5" fill="#fff" stroke="#a6a6a6" stroke-width="1"/>
<rect x="535.8" y="151.9" width="5" height="5" fill="#fff" stroke="#a6a6a6" stroke-width="1"/>
<rect x="538.4" y="157.1" width="5" height="5" fill="#fff" stroke="#a6a6a6" stroke-width="1"/>
<rect x="541.1" y="162.4" width="5" height="5" fill="#fff" stroke="#a6a6a6" stroke-width="1"/>
<rect x="544" y="167.6" width="5" height="5" fill="#fff" stroke="#a6a6a6" stroke-width="1"/>
<rect x="546.8" y="172.8" width="5" height="5" fill="#fff" stroke="#a6a6a6" stroke-width="1"/>
<rect x="549.6" y="178.1" width="5" height="5" fill="#fff" stroke="#a6a6a6" stroke-width="1"/>
<rect x="552.2" y="183.3" width="5" height="5" fill="#fff" stroke="#a6a6a6" stroke-width="1"/>
<rect x="554.8" y="188.5" width="5" height="5" fill="#fff" stroke="#a6a6a6" stroke-width="1"/>
<rect x="557.4" y="193.8" width="5" height="5" fill="#fff" stroke="#a6a6a6" stroke-width="1"/>
</g>
<rect x="370.7" y="42.0" width="314.59999999999997" height="157.5" fill="none" stroke="#111" stroke-width="1.7"/>
<line x1="527.75" y1="42.0" x2="527.75" y2="199.5" stroke="#111" stroke-width="1.7"/>
<path d="M525.6,189.82 H530 M523.2,179.94 H532.4 M525.6,170.06 H530 M523.2,160.17 H532.4 M525.6,150.29 H530 M523.2,140.41 H532.4 M525.6,130.53 H530 M523.2,120.65 H532.4 M525.6,110.77 H530 M523.2,100.89 H532.4 M525.6,91.01 H530 M523.2,81.12 H532.4 M525.6,71.24 H530 M523.2,61.36 H532.4 M525.6,51.48 H530 M388.23,199.5 V204 M405.67,199.5 V201.7 M423.11,199.5 V204 M440.55,199.5 V201.7 M457.99,199.5 V204 M475.43,199.5 V201.7 M492.87,199.5 V204 M510.31,199.5 V201.7 M527.75,199.5 V204 M545.19,199.5 V201.7 M562.63,199.5 V204 M580.07,199.5 V201.7 M597.51,199.5 V204 M614.95,199.5 V201.7 M632.39,199.5 V204 M649.83,199.5 V201.7 M667.27,199.5 V204" stroke="#111" stroke-width="1.3" fill="none"/>
<text x="535.8" y="183.04" font-family='"Liberation Sans", Arial, sans-serif' font-size="10.6" fill="#333" textLength="20.2" lengthAdjust="spacingAndGlyphs" stroke="#333" stroke-width="0.32">0.25</text>
<text x="535.8" y="163.27" font-family='"Liberation Sans", Arial, sans-serif' font-size="10.6" fill="#333" textLength="20.2" lengthAdjust="spacingAndGlyphs" stroke="#333" stroke-width="0.32">0.50</text>
<text x="535.8" y="143.51" font-family='"Liberation Sans", Arial, sans-serif' font-size="10.6" fill="#333" textLength="20.2" lengthAdjust="spacingAndGlyphs" stroke="#333" stroke-width="0.32">0.75</text>
<text x="535.8" y="123.75" font-family='"Liberation Sans", Arial, sans-serif' font-size="10.6" fill="#333" textLength="20.2" lengthAdjust="spacingAndGlyphs" stroke="#333" stroke-width="0.32">1.00</text>
<text x="535.8" y="103.99" font-family='"Liberation Sans", Arial, sans-serif' font-size="10.6" fill="#333" textLength="20.2" lengthAdjust="spacingAndGlyphs" stroke="#333" stroke-width="0.32">1.25</text>
<text x="535.8" y="84.22" font-family='"Liberation Sans", Arial, sans-serif' font-size="10.6" fill="#333" textLength="20.2" lengthAdjust="spacingAndGlyphs" stroke="#333" stroke-width="0.32">1.50</text>
<text x="535.8" y="64.46" font-family='"Liberation Sans", Arial, sans-serif' font-size="10.6" fill="#333" textLength="20.2" lengthAdjust="spacingAndGlyphs" stroke="#333" stroke-width="0.32">1.75</text>
<text x="387.73" y="215.6" font-family='"Liberation Sans", Arial, sans-serif' font-size="10.2" fill="#333" text-anchor="middle" textLength="19" lengthAdjust="spacingAndGlyphs" stroke="#333" stroke-width="0.32">-1.6</text>
<text x="422.61" y="215.6" font-family='"Liberation Sans", Arial, sans-serif' font-size="10.2" fill="#333" text-anchor="middle" textLength="19" lengthAdjust="spacingAndGlyphs" stroke="#333" stroke-width="0.32">-1.2</text>
<text x="457.49" y="215.6" font-family='"Liberation Sans", Arial, sans-serif' font-size="10.2" fill="#333" text-anchor="middle" textLength="19" lengthAdjust="spacingAndGlyphs" stroke="#333" stroke-width="0.32">-0.8</text>
<text x="492.37" y="215.6" font-family='"Liberation Sans", Arial, sans-serif' font-size="10.2" fill="#333" text-anchor="middle" textLength="19" lengthAdjust="spacingAndGlyphs" stroke="#333" stroke-width="0.32">-0.4</text>
<text x="527.75" y="215.6" font-family='"Liberation Sans", Arial, sans-serif' font-size="10.2" fill="#333" text-anchor="middle" textLength="13.6" lengthAdjust="spacingAndGlyphs" stroke="#333" stroke-width="0.32">0.0</text>
<text x="562.63" y="215.6" font-family='"Liberation Sans", Arial, sans-serif' font-size="10.2" fill="#333" text-anchor="middle" textLength="13.6" lengthAdjust="spacingAndGlyphs" stroke="#333" stroke-width="0.32">0.4</text>
<text x="597.51" y="215.6" font-family='"Liberation Sans", Arial, sans-serif' font-size="10.2" fill="#333" text-anchor="middle" textLength="13.6" lengthAdjust="spacingAndGlyphs" stroke="#333" stroke-width="0.32">0.8</text>
<text x="632.39" y="215.6" font-family='"Liberation Sans", Arial, sans-serif' font-size="10.2" fill="#333" text-anchor="middle" textLength="13.6" lengthAdjust="spacingAndGlyphs" stroke="#333" stroke-width="0.32">1.2</text>
<text x="667.27" y="215.6" font-family='"Liberation Sans", Arial, sans-serif' font-size="10.2" fill="#333" text-anchor="middle" textLength="13.6" lengthAdjust="spacingAndGlyphs" stroke="#333" stroke-width="0.32">1.6</text>
<text x="509.6" y="36.8" font-family='"Liberation Sans", Arial, sans-serif' font-size="12" fill="#222" stroke="#222" stroke-width="0.32">Voltage</text>
<text x="491.6" y="230.3" font-family='"Liberation Sans", Arial, sans-serif' font-size="12" fill="#222" stroke="#222" stroke-width="0.32">Current, A<tspan font-size="9">&#183;</tspan>cm<tspan font-size="7.5" dy="-4.5">-2</tspan></text>
<rect x="573.3" y="46" width="6" height="6" fill="#fff" stroke="#a6a6a6" stroke-width="1"/>
<circle cx="576.3" cy="61.6" r="2.8" fill="#fff" stroke="#0a0af0" stroke-width="1.5"/>
<rect x="573.2" y="70.9" width="6.2" height="6.2" fill="#808080"/>
<circle cx="576.3" cy="86.4" r="3.4" fill="#0a0af0"/>
<text x="587.8" y="52.2" font-family='"Liberation Sans", Arial, sans-serif' font-size="9" fill="#333" textLength="40.6" lengthAdjust="spacingAndGlyphs" stroke="#333" stroke-width="0.32">LSCrM-800</text>
<text x="587.8" y="64.8" font-family='"Liberation Sans", Arial, sans-serif' font-size="9" fill="#333" textLength="40.6" lengthAdjust="spacingAndGlyphs" stroke="#333" stroke-width="0.32">LSCrM-850</text>
<text x="587.8" y="77.2" font-family='"Liberation Sans", Arial, sans-serif' font-size="9" fill="#333" textLength="51.8" lengthAdjust="spacingAndGlyphs" stroke="#333" stroke-width="0.32">Pt-LSCrM-800</text>
<text x="587.8" y="89.6" font-family='"Liberation Sans", Arial, sans-serif' font-size="9" fill="#333" textLength="51.8" lengthAdjust="spacingAndGlyphs" stroke="#333" stroke-width="0.32">Pt-LSCrM-850</text>
<text x="393.4" y="113.2" font-family='"Liberation Sans", Arial, sans-serif' font-size="7.2" font-weight="bold" fill="#222" stroke="#222" stroke-width="0.18">CO<tspan font-size="4.32" dy="1.6">2</tspan></text>
<text x="412.4" y="113.2" font-family='"Liberation Sans", Arial, sans-serif' font-size="7.2" font-weight="bold" fill="#222" stroke="#222" stroke-width="0.18">H<tspan font-size="4.32" dy="1.6">2</tspan><tspan dy="-1.6">O</tspan></text>
<text x="432.3" y="113.2" font-family='"Liberation Sans", Arial, sans-serif' font-size="7.2" font-weight="bold" fill="#222" stroke="#222" stroke-width="0.18">H<tspan font-size="4.32" dy="1.6">2</tspan></text>
<circle cx="403.56" cy="121.15" r="2.9" fill="url(#mRed)"/><circle cx="398.84" cy="117.45" r="3.0" fill="url(#mRed)"/><circle cx="401.4" cy="119.5" r="2.3" fill="url(#mWht)"/>
<circle cx="419" cy="119.2" r="3.1" fill="url(#mRed)"/><circle cx="421.3" cy="120.5" r="1.9" fill="url(#mWht)"/><circle cx="421.7" cy="117.2" r="1.6" fill="url(#mWht)"/>
<circle cx="435.1" cy="120.4" r="2.3" fill="url(#mWht)" stroke="#aaa" stroke-width="0.4"/><circle cx="437.5" cy="118" r="2.3" fill="url(#mWht)" stroke="#aaa" stroke-width="0.4"/>
<path d="M449.5,130 H463 V150.8 H449.5" fill="none" stroke="#8a8a8a" stroke-width="0.8"/>
<rect x="387.7" y="148.6" width="61.8" height="6" rx="1.5" fill="url(#gDark)"/><path d="M380.9,135.2 A36.8,2.6 0 0 1 454.5,135.2 V146.6 A36.8,2.6 0 0 1 380.9,146.6 Z" fill="url(#gGray)" stroke="#8a8a8a" stroke-width="0.6"/><ellipse cx="417.7" cy="135.2" rx="36.5" ry="2.6" fill="#e9e9e9" stroke="#9a9a9a" stroke-width="0.5"/><path d="M387.2,127.4 A30.7,2 0 0 1 448.6,127.4 V132.8 A30.7,2 0 0 1 387.2,132.8 Z" fill="url(#gGreen)"/><ellipse cx="417.9" cy="127.4" rx="30.7" ry="2" fill="#a8d185"/>
<path d="M402,147.2 L405.4,144 L403,144 L403,136.8 L401,136.8 L401,144 L398.6,144 Z" fill="#fff" stroke="#8a8a8a" stroke-width="0.5"/>
<path d="M434,147.2 L437.4,144 L435,144 L435,136.8 L433,136.8 L433,144 L430.6,144 Z" fill="#fff" stroke="#8a8a8a" stroke-width="0.5"/>
<text x="413.6" y="146.4" font-family='"Liberation Sans", Arial, sans-serif' font-size="9.5" font-weight="bold" fill="#222" stroke="#222" stroke-width="0.18">O<tspan font-size="6" dy="-3.8">2-</tspan></text>
<path d="M449.2,130 L453.8,127.8 L453.8,132.2 Z" fill="#111"/>
<text x="457.5" y="128.5" font-family='"Liberation Sans", Arial, sans-serif' font-size="6.5" font-weight="bold" fill="#222" stroke="#222" stroke-width="0.18">e-</text>
<path d="M466.5,133.5 L459.5,141.5 L463.2,141.2 L460,148.5 L467.8,139.2 L464,139.6 Z" fill="#ffd21a" stroke="#f2b800" stroke-width="0.4"/>
<circle cx="419.03" cy="159.77" r="2.8" fill="url(#mRed)"/><circle cx="421.97" cy="161.83" r="2.8" fill="url(#mRed)"/>
<text x="407.5" y="162.2" font-family='"Liberation Sans", Arial, sans-serif' font-size="7.2" font-weight="bold" fill="#222" stroke="#222" stroke-width="0.18">O<tspan font-size="4.32" dy="1.6">2</tspan></text>
<text x="388.5" y="176.1" font-family='"Liberation Sans", Arial, sans-serif' font-size="11.7" font-weight="bold" fill="#1a1a1a" textLength="63.5" lengthAdjust="spacingAndGlyphs" stroke="#1a1a1a" stroke-width="0.18">Electrolysis</text>
<text x="609.8" y="107" font-family='"Liberation Sans", Arial, sans-serif' font-size="7.2" font-weight="bold" fill="#222" stroke="#222" stroke-width="0.18">CO<tspan font-size="4.32" dy="1.6">2</tspan></text>
<text x="628.4" y="107" font-family='"Liberation Sans", Arial, sans-serif' font-size="7.2" font-weight="bold" fill="#222" stroke="#222" stroke-width="0.18">H<tspan font-size="4.32" dy="1.6">2</tspan><tspan dy="-1.6">O</tspan></text>
<text x="648.4" y="107" font-family='"Liberation Sans", Arial, sans-serif' font-size="7.2" font-weight="bold" fill="#222" stroke="#222" stroke-width="0.18">H<tspan font-size="4.32" dy="1.6">2</tspan></text>
<circle cx="620.66" cy="115.25" r="2.9" fill="url(#mRed)"/><circle cx="615.94" cy="111.55" r="3.0" fill="url(#mRed)"/><circle cx="618.5" cy="113.6" r="2.3" fill="url(#mWht)"/>
<circle cx="635.5" cy="113.3" r="3.1" fill="url(#mRed)"/><circle cx="637.8" cy="114.6" r="1.9" fill="url(#mWht)"/><circle cx="638.2" cy="111.3" r="1.6" fill="url(#mWht)"/>
<circle cx="650.8" cy="114" r="2.3" fill="url(#mWht)" stroke="#aaa" stroke-width="0.4"/><circle cx="653.2" cy="111.6" r="2.3" fill="url(#mWht)" stroke="#aaa" stroke-width="0.4"/>
<path d="M665,122 H679.4 V145.2 H665" fill="none" stroke="#8a8a8a" stroke-width="0.8"/>
<rect x="604" y="142.8" width="61" height="5.8" rx="1.5" fill="url(#gDark)"/><path d="M597.3,129.2 A37.25,2.6 0 0 1 671.8,129.2 V140.8 A37.25,2.6 0 0 1 597.3,140.8 Z" fill="url(#gGray)" stroke="#8a8a8a" stroke-width="0.6"/><ellipse cx="634.55" cy="129.2" rx="36.95" ry="2.6" fill="#e9e9e9" stroke="#9a9a9a" stroke-width="0.5"/><path d="M603.6,120.7 A30.7,2 0 0 1 665,120.7 V127 A30.7,2 0 0 1 603.6,127 Z" fill="url(#gGreen)"/><ellipse cx="634.3" cy="120.7" rx="30.7" ry="2" fill="#a8d185"/>
<path d="M619.3,130.5 L622.7,133.7 L620.3,133.7 L620.3,141.2 L618.3,141.2 L618.3,133.7 L615.9,133.7 Z" fill="#fff" stroke="#8a8a8a" stroke-width="0.5"/>
<path d="M650.6,130.5 L654,133.7 L651.6,133.7 L651.6,141.2 L649.6,141.2 L649.6,133.7 L647.2,133.7 Z" fill="#fff" stroke="#8a8a8a" stroke-width="0.5"/>
<text x="630" y="139.8" font-family='"Liberation Sans", Arial, sans-serif' font-size="9.5" font-weight="bold" fill="#222" stroke="#222" stroke-width="0.18">O<tspan font-size="6" dy="-3.8">2-</tspan></text>
<path d="M665.5,145.2 L670,143 L670,147.4 Z" fill="#111"/>
<text x="672.5" y="151.2" font-family='"Liberation Sans", Arial, sans-serif' font-size="6.5" font-weight="bold" fill="#222" stroke="#222" stroke-width="0.18">e-</text>
<circle cx="679.2" cy="131.2" r="4.2" fill="url(#gBulb)" stroke="#e0a800" stroke-width="0.4"/>
<rect x="677.4" y="134.8" width="3.6" height="3.2" fill="#9aa6b0"/>
<circle cx="635.33" cy="154.17" r="2.8" fill="url(#mRed)"/><circle cx="638.27" cy="156.23" r="2.8" fill="url(#mRed)"/>
<text x="623.5" y="157" font-family='"Liberation Sans", Arial, sans-serif' font-size="7.2" font-weight="bold" fill="#222" stroke="#222" stroke-width="0.18">O<tspan font-size="4.32" dy="1.6">2</tspan></text>
<text x="624.2" y="169.4" font-family='"Liberation Sans", Arial, sans-serif' font-size="11.3" font-weight="bold" fill="#1a1a1a" textLength="46.6" lengthAdjust="spacingAndGlyphs" stroke="#1a1a1a" stroke-width="0.18">Fuel Cell</text>
<defs>
<radialGradient id="sph" cx="0.45" cy="0.42" r="0.62" fx="0.4" fy="0.33">
<stop offset="0" stop-color="#ffffff"/><stop offset="0.18" stop-color="#f4f4f4"/><stop offset="0.5" stop-color="#c8c8c8"/><stop offset="0.8" stop-color="#969696"/><stop offset="1" stop-color="#727272"/></radialGradient>
<linearGradient id="sideG" x1="0" y1="0" x2="1" y2="0"><stop offset="0" stop-color="#a9a9a9"/><stop offset="1" stop-color="#c4c4c4"/></linearGradient>
<radialGradient id="coreA" gradientUnits="userSpaceOnUse" cx="452" cy="283" r="52" fx="462" fy="288">
<stop offset="0" stop-color="#b4b4b4"/><stop offset="0.45" stop-color="#7c7c7c"/><stop offset="1" stop-color="#2e2e2e"/></radialGradient>
<radialGradient id="coreB" gradientUnits="userSpaceOnUse" cx="392" cy="398" r="96" fx="400" fy="392">
<stop offset="0" stop-color="#e8e8e8"/><stop offset="0.45" stop-color="#b8b8b8"/><stop offset="0.65" stop-color="#969696"/><stop offset="0.85" stop-color="#6a6a6a"/><stop offset="1" stop-color="#404040"/></radialGradient>
<marker id="ahK" viewBox="0 0 10 10" refX="9" refY="5" markerWidth="4.2" markerHeight="4.2" orient="auto"><path d="M0,0 L10,5 L0,10 Z" fill="#111"/></marker>
<marker id="ahG" viewBox="0 0 10 10" refX="9" refY="5" markerWidth="4.2" markerHeight="4.2" orient="auto"><path d="M0,0 L10,5 L0,10 Z" fill="#6aa84f"/></marker>
<marker id="ahR" viewBox="0 0 10 10" refX="9" refY="5" markerWidth="4.2" markerHeight="4.2" orient="auto"><path d="M0,0 L10,5 L0,10 Z" fill="#e8201a"/></marker>
<marker id="ahB" viewBox="0 0 10 10" refX="9" refY="5" markerWidth="4.2" markerHeight="4.2" orient="auto"><path d="M0,0 L10,5 L0,10 Z" fill="#8fb8e0"/></marker>
<marker id="ahY" viewBox="0 0 10 10" refX="9" refY="5" markerWidth="4.2" markerHeight="4.2" orient="auto"><path d="M0,0 L10,5 L0,10 Z" fill="#6e6e6e"/></marker>
<clipPath id="clipInset"><rect x="444.7" y="293" width="152.3" height="117.5"/></clipPath>
</defs>
<text x="4" y="282.3" font-family='"Liberation Serif", "Times New Roman", serif' font-size="25">(c)</text>
<path d="M137.3,447.5 L198.3,384.5 L405.8,384.5 L344.8,447.5 Z" fill="#dcdcdc" stroke="#2b3a55" stroke-width="1.2" stroke-linejoin="round"/>
<path d="M344.8,447.5 L405.8,384.5 L405.8,407.5 L344.8,470.5 Z" fill="url(#sideG)" stroke="#2b3a55" stroke-width="1.2" stroke-linejoin="round"/>
<path d="M137.3,447.5 L344.8,447.5 L344.8,470.5 L137.3,470.5 Z" fill="#dedede" stroke="#2b3a55" stroke-width="1.2" stroke-linejoin="round"/>
<text x="148.5" y="464.1" font-family='"Liberation Sans", Arial, sans-serif' font-size="14.2" font-weight="bold" fill="#111" text-anchor="start" textLength="104.9" lengthAdjust="spacingAndGlyphs">YSZ Electrolyte</text>
<circle cx="217" cy="359.1" r="19.5" fill="#9dc3e6"/><circle cx="217" cy="359.1" r="17.6" fill="#ff2a00"/><circle cx="216.7" cy="358.4" r="14.5" fill="url(#sph)"/>
<ellipse cx="224.6" cy="356.5" rx="4.9" ry="2.5" transform="rotate(75 224.6 356.5)" fill="#70ad47"/>
<ellipse cx="223.4" cy="338.2" rx="4.9" ry="2.5" transform="rotate(15 223.4 338.2)" fill="#70ad47"/>
<circle cx="335.8" cy="359.8" r="19.5" fill="#9dc3e6"/><circle cx="335.8" cy="359.8" r="17.6" fill="#ff2a00"/><circle cx="335.5" cy="359.1" r="14.5" fill="url(#sph)"/>
<ellipse cx="341.5" cy="363.6" rx="4.9" ry="2.5" transform="rotate(-60 341.5 363.6)" fill="#70ad47"/>
<ellipse cx="352" cy="346.5" rx="4.9" ry="2.5" transform="rotate(30 352 346.5)" fill="#70ad47"/>
<circle cx="246" cy="381.2" r="19.5" fill="#9dc3e6"/><circle cx="246" cy="381.2" r="17.6" fill="#ff2a00"/><circle cx="245.7" cy="380.5" r="14.5" fill="url(#sph)"/>
<ellipse cx="244" cy="381" rx="4.9" ry="2.5" transform="rotate(-35 244 381)" fill="#70ad47"/>
<circle cx="268" cy="359.2" r="19.5" fill="#9dc3e6"/><circle cx="268" cy="359.2" r="17.6" fill="#ff2a00"/><circle cx="267.7" cy="358.5" r="14.5" fill="url(#sph)"/>
<ellipse cx="270.6" cy="364" rx="4.9" ry="2.5" transform="rotate(-10 270.6 364)" fill="#70ad47"/>
<ellipse cx="248.8" cy="348.4" rx="4.9" ry="2.5" transform="rotate(-60 248.8 348.4)" fill="#70ad47"/>
<circle cx="191" cy="374.3" r="19.5" fill="#9dc3e6"/><circle cx="191" cy="374.3" r="17.6" fill="#ff2a00"/><circle cx="190.7" cy="373.6" r="14.5" fill="url(#sph)"/>
<ellipse cx="179" cy="358.4" rx="4.9" ry="2.5" transform="rotate(-30 179 358.4)" fill="#70ad47"/>
<ellipse cx="170.8" cy="382.5" rx="4.9" ry="2.5" transform="rotate(75 170.8 382.5)" fill="#70ad47"/>
<ellipse cx="196.8" cy="369.2" rx="4.9" ry="2.5" transform="rotate(60 196.8 369.2)" fill="#70ad47"/>
<circle cx="293.7" cy="422.5" r="19.5" fill="#9dc3e6"/><circle cx="293.7" cy="422.5" r="17.6" fill="#ff2a00"/><circle cx="293.4" cy="421.8" r="14.5" fill="url(#sph)"/>
<ellipse cx="286" cy="424" rx="4.9" ry="2.5" transform="rotate(65 286 424)" fill="#70ad47"/>
<ellipse cx="310" cy="434.3" rx="4.9" ry="2.5" transform="rotate(-30 310 434.3)" fill="#70ad47"/>
<circle cx="370.6" cy="370.4" r="19.5" fill="#9dc3e6"/><circle cx="370.6" cy="370.4" r="17.6" fill="#ff2a00"/><circle cx="370.3" cy="369.7" r="14.5" fill="url(#sph)"/>
<ellipse cx="385.8" cy="357.1" rx="4.9" ry="2.5" transform="rotate(40 385.8 357.1)" fill="#70ad47"/>
<circle cx="346.4" cy="389.8" r="19.5" fill="#9dc3e6"/><circle cx="346.4" cy="389.8" r="17.6" fill="#ff2a00"/><circle cx="346.1" cy="389.1" r="14.5" fill="url(#sph)"/>
<ellipse cx="361" cy="376.8" rx="4.9" ry="2.5" transform="rotate(35 361 376.8)" fill="#70ad47"/>
<circle cx="257" cy="397.4" r="19.5" fill="#9dc3e6"/><circle cx="257" cy="397.4" r="17.6" fill="#ff2a00"/><circle cx="256.7" cy="396.7" r="14.5" fill="url(#sph)"/>
<ellipse cx="261.8" cy="401.4" rx="4.9" ry="2.5" transform="rotate(-35 261.8 401.4)" fill="#70ad47"/>
<circle cx="291.4" cy="395.9" r="19.5" fill="#9dc3e6"/><circle cx="291.4" cy="395.9" r="17.6" fill="#ff2a00"/><circle cx="291.1" cy="395.2" r="14.5" fill="url(#sph)"/>
<ellipse cx="296.3" cy="401.1" rx="4.9" ry="2.5" transform="rotate(-35 296.3 401.1)" fill="#70ad47"/>
<ellipse cx="280.4" cy="376" rx="4.9" ry="2.5" transform="rotate(-15 280.4 376)" fill="#70ad47"/>
<circle cx="310.4" cy="367.4" r="19.5" fill="#9dc3e6"/><circle cx="310.4" cy="367.4" r="17.6" fill="#ff2a00"/><circle cx="310.1" cy="366.7" r="14.5" fill="url(#sph)"/>
<ellipse cx="316.8" cy="373.1" rx="4.9" ry="2.5" transform="rotate(-55 316.8 373.1)" fill="#70ad47"/>
<ellipse cx="298.6" cy="351.5" rx="4.9" ry="2.5" transform="rotate(-20 298.6 351.5)" fill="#70ad47"/>
<circle cx="205.8" cy="397.4" r="19.5" fill="#9dc3e6"/><circle cx="205.8" cy="397.4" r="17.6" fill="#ff2a00"/><circle cx="205.5" cy="396.7" r="14.5" fill="url(#sph)"/>
<ellipse cx="213" cy="397.4" rx="4.9" ry="2.5" transform="rotate(-60 213 397.4)" fill="#70ad47"/>
<circle cx="340.2" cy="416.3" r="19.5" fill="#9dc3e6"/><circle cx="340.2" cy="416.3" r="17.6" fill="#ff2a00"/><circle cx="339.9" cy="415.6" r="14.5" fill="url(#sph)"/>
<ellipse cx="325.3" cy="399.6" rx="4.9" ry="2.5" transform="rotate(-70 325.3 399.6)" fill="#70ad47"/>
<ellipse cx="343.6" cy="423.7" rx="4.9" ry="2.5" transform="rotate(-30 343.6 423.7)" fill="#70ad47"/>
<ellipse cx="361.2" cy="409.8" rx="4.9" ry="2.5" transform="rotate(80 361.2 409.8)" fill="#70ad47"/>
<circle cx="189.8" cy="418.2" r="19.5" fill="#9dc3e6"/><circle cx="189.8" cy="418.2" r="17.6" fill="#ff2a00"/><circle cx="189.5" cy="417.5" r="14.5" fill="url(#sph)"/>
<ellipse cx="166.9" cy="418.2" rx="4.9" ry="2.5" transform="rotate(80 166.9 418.2)" fill="#70ad47"/>
<ellipse cx="195.4" cy="421.4" rx="4.9" ry="2.5" transform="rotate(-55 195.4 421.4)" fill="#70ad47"/>
<circle cx="242.6" cy="421.4" r="19.5" fill="#9dc3e6"/><circle cx="242.6" cy="421.4" r="17.6" fill="#ff2a00"/><circle cx="242.3" cy="420.7" r="14.5" fill="url(#sph)"/>
<ellipse cx="220.7" cy="427" rx="4.9" ry="2.5" transform="rotate(75 220.7 427)" fill="#70ad47"/>
<ellipse cx="245.8" cy="429.4" rx="4.9" ry="2.5" transform="rotate(-20 245.8 429.4)" fill="#70ad47"/>
<path d="M348.9,398.4 H375.8 V421.2 H348.9 Z" fill="none" stroke="#a9d18e" stroke-width="1.3"/>
<path d="M375.8,398.4 L444.7,293" fill="none" stroke="#a9d18e" stroke-width="1.3"/>
<path d="M348.9,421.2 L597,410.5" fill="none" stroke="#a9d18e" stroke-width="1.3"/>
<text x="267.2" y="298.3" font-family='"Liberation Sans", Arial, sans-serif' font-size="12.3" font-weight="bold" fill="#70ad47" text-anchor="middle" textLength="98.6" lengthAdjust="spacingAndGlyphs">Anchored Nickel</text>
<text x="267.5" y="312.6" font-family='"Liberation Sans", Arial, sans-serif' font-size="12.3" font-weight="bold" fill="#70ad47" text-anchor="middle" textLength="74.8" lengthAdjust="spacingAndGlyphs">Nanoparticle</text>
<line x1="254" y1="319.7" x2="224" y2="337.4" stroke="#6aa84f" stroke-width="1.6" marker-end="url(#ahG)"/>
<text x="384" y="301" font-family='"Liberation Sans", Arial, sans-serif' font-size="12.5" font-weight="bold" fill="#f0301c" text-anchor="middle" textLength="55.3" lengthAdjust="spacingAndGlyphs">Activated</text>
<text x="383.6" y="316.7" font-family='"Liberation Sans", Arial, sans-serif' font-size="12.5" font-weight="bold" fill="#f0301c" text-anchor="middle" textLength="82.5" lengthAdjust="spacingAndGlyphs">Oxide Anchor</text>
<line x1="352" y1="322.5" x2="338" y2="343.5" stroke="#e8201a" stroke-width="1.6" marker-end="url(#ahR)"/>
<text x="109.5" y="349" font-family='"Liberation Sans", Arial, sans-serif' font-size="11.8" font-weight="bold" fill="#9dc3e6" text-anchor="middle" textLength="22.5" lengthAdjust="spacingAndGlyphs">ALT</text>
<text x="108.8" y="363.8" font-family='"Liberation Sans", Arial, sans-serif' font-size="11.8" font-weight="bold" fill="#9dc3e6" text-anchor="middle" textLength="54.5" lengthAdjust="spacingAndGlyphs">Interlayer</text>
<line x1="143.8" y1="359.2" x2="170.5" y2="368.3" stroke="#8fb8e0" stroke-width="1.6" marker-end="url(#ahB)"/>
<text x="94.3" y="404.9" font-family='"Liberation Sans", Arial, sans-serif' font-size="12" font-weight="bold" fill="#7f7f7f" text-anchor="middle" textLength="40.5" lengthAdjust="spacingAndGlyphs">Porous</text>
<text x="94.3" y="420.4" font-family='"Liberation Sans", Arial, sans-serif' font-size="12" font-weight="bold" fill="#7f7f7f" text-anchor="middle" textLength="23.2" lengthAdjust="spacingAndGlyphs">YSZ</text>
<text x="94.5" y="435.6" font-family='"Liberation Sans", Arial, sans-serif' font-size="12" font-weight="bold" fill="#7f7f7f" text-anchor="middle" textLength="57.9" lengthAdjust="spacingAndGlyphs">Backbone</text>
<line x1="134.9" y1="417.6" x2="167.8" y2="401.6" stroke="#6e6e6e" stroke-width="1.6" marker-end="url(#ahY)"/>
<g clip-path="url(#clipInset)">
<rect x="444.7" y="293" width="152.3" height="117.5" fill="#dfdfdf"/>
<path d="M505,292 L546,292 Q540,306 525.9,321.3 L512,345 L492,352 L484,330 Z" fill="#9dc3e6"/>
<path d="M444,292 L504.2,292 L482.9,319.1 L470,335 L444,335 Z" fill="url(#coreA)"/>
<path d="M504.1,292 L526.2,292 Q514.6,322.8 493.4,337.2 L476,328 L482.9,319.1 Z" fill="#ff2a00"/>
<circle cx="380.4" cy="403.4" r="131.4" fill="#9dc3e6"/>
<circle cx="380.4" cy="403.4" r="114.7" fill="#ff2a00"/>
<circle cx="380.4" cy="403.4" r="93.4" fill="url(#coreB)"/>
<ellipse cx="515.6" cy="357.6" rx="18.6" ry="36.4" transform="rotate(11 515.6 357.6)" fill="#70ad47"/>
<ellipse cx="511.6" cy="336.2" rx="15.6" ry="8" transform="rotate(-52 511.6 336.2)" fill="#4472c4"/>
<ellipse cx="503.2" cy="376.8" rx="6.8" ry="16.6" transform="rotate(-17 503.2 376.8)" fill="#4472c4"/>
<path d="M587.5,410.5 L597,410.5 L597,401 Z" fill="#1f3864"/>
</g>
<text x="518.6" y="365.2" font-family='"Liberation Sans", Arial, sans-serif' font-size="11" font-weight="bold" fill="#111" text-anchor="middle">Ni</text>
<rect x="444.7" y="293" width="152.3" height="117.5" fill="none" stroke="#a9d18e" stroke-width="1.6"/>
<text x="497.2" y="272.1" font-family='"Liberation Sans", Arial, sans-serif' font-size="11.8" font-weight="bold" fill="#111"><tspan>NiAl</tspan><tspan font-size="8.26" dy="2.6">2</tspan><tspan dy="-2.6">O</tspan><tspan font-size="8.26" dy="2.6">4</tspan></text>
<line x1="514" y1="277" x2="514" y2="332.5" stroke="#111" stroke-width="1.7" marker-end="url(#ahK)"/>
<text x="419.6" y="459.8" font-family='"Liberation Sans", Arial, sans-serif' font-size="12" font-weight="bold" fill="#111" text-anchor="start" textLength="23.1" lengthAdjust="spacingAndGlyphs">YSZ</text>
<line x1="430" y1="446.5" x2="455.8" y2="407.2" stroke="#111" stroke-width="1.6" marker-end="url(#ahK)"/>
<text x="464" y="460.2" font-family='"Liberation Sans", Arial, sans-serif' font-size="11.8" font-weight="bold" fill="#111"><tspan>ZrTiO</tspan><tspan font-size="8.26" dy="2.6">4</tspan></text>
<line x1="478.1" y1="446.7" x2="484.6" y2="408.4" stroke="#111" stroke-width="1.6" marker-end="url(#ahK)"/>
<text x="508.5" y="449.9" font-family='"Liberation Sans", Arial, sans-serif' font-size="12" font-weight="bold" fill="#111" text-anchor="start" textLength="22.7" lengthAdjust="spacingAndGlyphs">ALT</text>
<line x1="514" y1="438" x2="505.2" y2="409.5" stroke="#111" stroke-width="1.6" marker-end="url(#ahK)"/>
<text x="533.7" y="440.5" font-family='"Liberation Sans", Arial, sans-serif' font-size="11.8" font-weight="bold" fill="#111"><tspan>NiAl</tspan><tspan font-size="8.26" dy="2.6">2</tspan><tspan dy="-2.6">O</tspan><tspan font-size="8.26" dy="2.6">4</tspan></text>
<line x1="542.3" y1="425.7" x2="509" y2="390" stroke="#111" stroke-width="1.6" marker-end="url(#ahK)"/>
</svg>
</body></html>
